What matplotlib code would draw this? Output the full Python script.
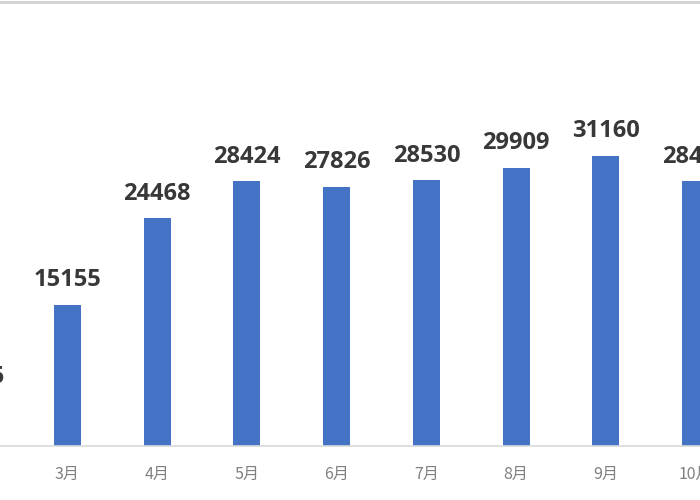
import matplotlib
matplotlib.use("Agg")
import matplotlib.pyplot as plt
from matplotlib.lines import Line2D

plt.rcParams['font.family'] = ['Noto Sans CJK SC', 'DejaVu Sans']

months = ["2月", "3月", "4月", "5月", "6月", "7月", "8月", "9月", "10月"]
values = [4736, 15155, 24468, 28424, 27826, 28530, 29909, 31160, 28443]

fig = plt.figure(figsize=(7, 5), dpi=100)
ax = fig.add_axes([0, 54 / 500, 1, 446 / 500])

x = list(range(len(months)))
ax.bar(x, values, width=0.30, color="#4472C4", zorder=2)

for xi, v in zip(x, values):
    ax.annotate(str(v), (xi, v), xytext=(0, 9), textcoords="offset points",
                ha="center", va="bottom", fontsize=17, fontweight="bold",
                color="#383838", family=["Open Sans", "DejaVu Sans"],
                annotation_clip=False)

ax.set_xticks(x)
ax.set_xticklabels(months, fontsize=11.5, color="#808080")
x0 = 0.25
ax.set_xlim(x0, x0 + 700 / 89.75)
ax.set_ylim(0, 47900)
ax.tick_params(axis="x", length=0, pad=14)
ax.set_yticks([])
for s in ["top", "left", "right"]:
    ax.spines[s].set_visible(False)
ax.spines["bottom"].set_color("#d9d9d9")
ax.spines["bottom"].set_linewidth(1.2)
ax.patch.set_alpha(0)

fig.add_artist(Line2D([0, 1], [0.997, 0.997], transform=fig.transFigure,
                      color="#d0d0d0", linewidth=2))

fig.savefig("out.png", dpi=100)
